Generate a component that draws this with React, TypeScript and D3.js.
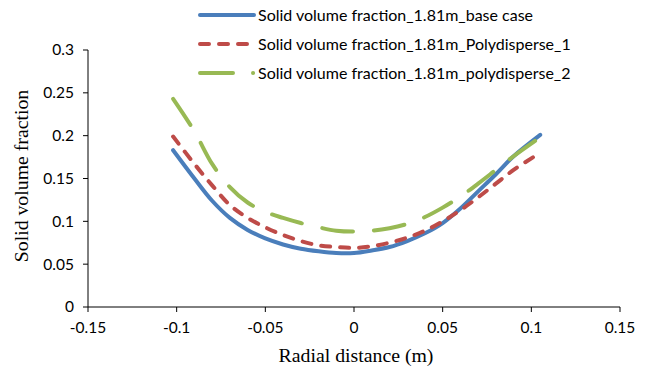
import React from "react";
import * as d3 from "d3";

const xValues = [-0.102, -0.09, -0.08, -0.07, -0.06, -0.05, -0.04, -0.03, -0.02, -0.01, 0, 0.01, 0.02, 0.03, 0.04, 0.05, 0.06, 0.07, 0.08, 0.09, 0.105];
const baseCase = [0.183, 0.150, 0.124, 0.104, 0.090, 0.080, 0.073, 0.068, 0.065, 0.063, 0.063, 0.066, 0.070, 0.077, 0.086, 0.098, 0.115, 0.135, 0.155, 0.176, 0.201];
const poly1 = [0.199, 0.167, 0.142, 0.119, 0.104, 0.093, 0.084, 0.077, 0.072, 0.070, 0.069, 0.071, 0.075, 0.081, 0.089, 0.100, 0.113, 0.128, 0.144, 0.160, 0.180];
const poly2 = [0.243, 0.205, 0.167, 0.140, 0.122, 0.111, 0.104, 0.098, 0.093, 0.089, 0.088, 0.089, 0.092, 0.097, 0.105, 0.116, 0.129, 0.144, 0.160, 0.176, 0.198];
const xTicks = [-0.15, -0.1, -0.05, 0, 0.05, 0.1, 0.15];
const yTicks = [0, 0.05, 0.1, 0.15, 0.2, 0.25, 0.3];
const seriesNames = [
  "Solid volume fraction_1.81m_base case",
  "Solid volume fraction_1.81m_Polydisperse_1",
  "Solid volume fraction_1.81m_polydisperse_2",
];

const W = 645, H = 371;
const x = d3.scaleLinear().domain([-0.15, 0.15]).range([88, 620]);
const y = d3.scaleLinear().domain([0, 0.3]).range([307, 50]);

const series = [
  { name: seriesNames[0], values: baseCase, color: "#4a7ebb", dash: "none", legendDash: "none" },
  { name: seriesNames[1], values: poly1, color: "#be4b48", dash: "9,10", legendDash: "9,10" },
  { name: seriesNames[2], values: poly2, color: "#98b954", dash: "31,21", legendDash: "33,20,0.1,100" },
];

const fmt = (v: number) => (v === 0 ? "0" : String(+v.toFixed(2)));

export default function App() {
  const line = d3
    .line<number>()
    .x((_, i) => x(xValues[i]))
    .y((d) => y(d))
    .curve(d3.curveCatmullRom.alpha(0.5));
  const tickFont = "Lato, 'Liberation Sans', Arial, sans-serif";
  const serif = "'Liberation Serif', 'Times New Roman', serif";
  return (
    <svg width={W} height={H} style={{ position: "absolute", left: 0, top: 0, background: "#fff" }}>
      <rect width={W} height={H} fill="#fff" />
      {/* axes */}
      <line x1={x(-0.15)} x2={x(-0.15)} y1={y(0.3)} y2={y(0)} stroke="#000" strokeWidth={1} />
      <line x1={x(-0.15)} x2={x(0.15)} y1={y(0)} y2={y(0)} stroke="#000" strokeWidth={1} />
      {yTicks.map((t) => (
        <g key={"y" + t}>
          <line x1={x(-0.15) - 5} x2={x(-0.15)} y1={y(t)} y2={y(t)} stroke="#000" />
          <text x={74} y={y(t)} dy="0.35em" textAnchor="end" fontFamily={tickFont} fontSize={15.5} fill="#000">
            {fmt(t)}
          </text>
        </g>
      ))}
      {xTicks.map((t) => (
        <g key={"x" + t}>
          <line x1={x(t)} x2={x(t)} y1={y(0)} y2={y(0) + 5} stroke="#000" />
          <text x={x(t)} y={333} textAnchor="middle" fontFamily={tickFont} fontSize={15.5} fill="#000">
            {fmt(t)}
          </text>
        </g>
      ))}
      <text x={356} y={362} textAnchor="middle" fontFamily={serif} fontSize={19.8} fill="#000">
        Radial distance (m)
      </text>
      <text
        transform={`translate(28,176) rotate(-90)`}
        textAnchor="middle"
        fontFamily={serif}
        fontSize={19.8}
        fill="#000"
      >
        Solid volume fraction
      </text>
      {/* series */}
      {series.map((s) => (
        <path
          key={s.name}
          d={line(s.values) || ""}
          fill="none"
          stroke={s.color}
          strokeWidth={4}
          strokeDasharray={s.dash}
          strokeLinecap="round"
          strokeLinejoin="round"
        />
      ))}
      {/* legend */}
      {series.map((s, i) => (
        <g key={"lg" + i} transform={`translate(0,${15 + i * 29})`}>
          <line x1={200} x2={254} y1={0} y2={0} stroke={s.color} strokeWidth={4} strokeLinecap="round" strokeDasharray={s.legendDash} />
          <text x={258} y={0} dy="0.35em" fontFamily={tickFont} fontSize={16} fill="#000">
            {s.name}
          </text>
        </g>
      ))}
    </svg>
  );
}
